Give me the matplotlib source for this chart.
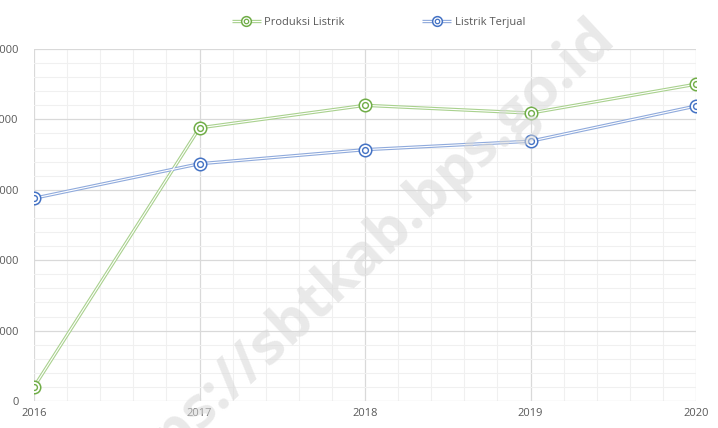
import matplotlib
matplotlib.use('Agg')
import matplotlib.pyplot as plt
from matplotlib.lines import Line2D
from matplotlib.ticker import MultipleLocator

years = [2016, 2017, 2018, 2019, 2020]
produksi = [200, 3880, 4200, 4090, 4500]
terjual = [2880, 3370, 3570, 3690, 4190]
y_ticks = [0, 1000, 2000, 3000, 4000, 5000]

plt.rcParams['font.family'] = ['Open Sans', 'DejaVu Sans']

fig = plt.figure(figsize=(7.18, 4.28), dpi=100)
ax = fig.add_axes([34 / 718, 27 / 428, 662 / 718, 352 / 428])

ax.set_xlim(2016, 2020)
ax.set_ylim(0, 5000)
ax.set_xticks(years)
ax.set_yticks(y_ticks)
ax.xaxis.set_minor_locator(MultipleLocator(0.2))
ax.yaxis.set_minor_locator(MultipleLocator(200))
ax.grid(which='major', color='#d9d9d9', lw=0.9)
ax.grid(which='minor', color='#f0f0f0', lw=0.8)
ax.set_axisbelow(True)
for s in ax.spines.values():
    s.set_visible(False)
ax.tick_params(which='both', length=0, colors='#595959', labelsize=8)
ax.tick_params(axis='y', pad=11)
ax.tick_params(axis='x', pad=5)


def draw(vals, line_c, mark_c, label):
    ax.plot(years, vals, color=line_c, lw=2.4, solid_capstyle='butt', zorder=3)
    ax.plot(years, vals, color='white', lw=0.8, zorder=4)
    ax.plot(years, vals, 'o', ms=9, mfc='white', mec=mark_c, mew=1.1, zorder=5)
    ax.plot(years, vals, 'o', ms=4.2, mfc='none', mec=mark_c, mew=1.0, zorder=6)
    # smaller proxies for the legend
    p = (Line2D([], [], color=line_c, lw=2.4, solid_capstyle='butt'),
         Line2D([], [], color='white', lw=0.8),
         Line2D([], [], marker='o', ls='none', ms=7, mfc='white', mec=mark_c, mew=1.1),
         Line2D([], [], marker='o', ls='none', ms=3.2, mfc='none', mec=mark_c, mew=0.9))
    return p, label


h1 = draw(produksi, '#a9d18e', '#70ad47', 'Produksi Listrik')
h2 = draw(terjual, '#8faadc', '#4472c4', 'Listrik Terjual')

leg = fig.legend([h1[0], h2[0]], [h1[1], h2[1]], loc='center', bbox_to_anchor=(0.527, 0.948),
                 ncol=2, frameon=False, fontsize=8, handlelength=2.6, handletextpad=0.3,
                 columnspacing=7.0, labelcolor='#595959')

fig.text(0.489, 0.377, 'https://sbtkab.bps.go.id', fontsize=42, fontweight='bold',
         color='#d8d8d8', alpha=0.55, rotation=43, ha='center', va='center', zorder=10)

fig.savefig('out.png', dpi=100)
